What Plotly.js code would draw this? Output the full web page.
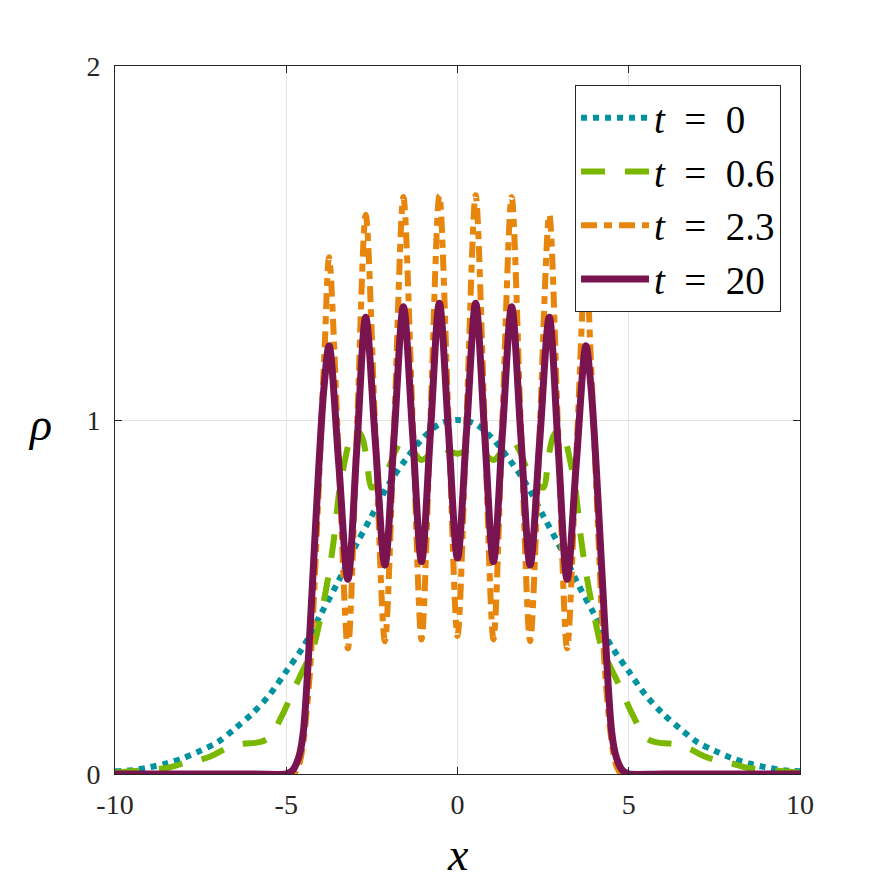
<!DOCTYPE html>
<html>
<head>
<meta charset="utf-8">
<script src="https://cdn.plot.ly/plotly-3.0.1.min.js"></script>
<style>
  html, body { margin: 0; padding: 0; background: #ffffff; }
  #chart { width: 886px; height: 886px; }
</style>
</head>
<body>
<div id="chart"></div>
<script>
// Density profiles rho(x) at four times.

// t = 0
const x_t0 = [-10,-9.5,-9,-8.5,-8,-7.5,-7,-6.5,-6,-5.5,-5,-4.5,-4,-3.5,-3,-2.5,-2,-1.5,-1,-0.5,0,
              0.5,1,1.5,2,2.5,3,3.5,4,4.5,5,5.5,6,6.5,7,7.5,8,8.5,9,9.5,10];
const rho_t0 = [0.008,0.011,0.019,0.03,0.045,0.066,0.09,0.128,0.17,0.222,0.29,0.36,0.45,0.54,0.64,0.73,0.82,0.89,0.95,0.99,1.0,
                0.99,0.95,0.89,0.82,0.73,0.64,0.54,0.45,0.36,0.29,0.222,0.17,0.128,0.09,0.066,0.045,0.03,0.019,0.011,0.008];

// t = 0.6
const x_t06 = [-10,-9.5,-9,-8.5,-8,-7.6,-7.2,-6.8,-6.5,-6.2,-5.9,-5.7,-5.5,-5.35,-5.2,-5,-4.8,-4.6,-4.4,-4.2,
               -4.05,-3.9,-3.75,-3.6,-3.45,-3.3,-3.15,-2.97,-2.8,-2.65,-2.52,-2.4,-2.2,-2,-1.8,-1.6,-1.35,-1.05,-0.75,-0.5,
               -0.25,0,0.25,0.5,0.75,1.05,1.35,1.6,1.8,2,2.2,2.4,2.52,2.65,2.8,2.97,3.15,3.3,3.45,3.6,
               3.75,3.9,4.05,4.2,4.4,4.6,4.8,5,5.2,5.35,5.5,5.7,5.9,6.2,6.5,6.8,7.2,7.6,8,8.5,9,9.5,10];
const rho_t06 = [0.004,0.008,0.012,0.017,0.03,0.038,0.05,0.07,0.082,0.086,0.088,0.092,0.102,0.12,0.15,0.19,0.235,0.275,0.315,0.36,
                 0.42,0.49,0.57,0.67,0.8,0.88,0.94,0.972,0.955,0.89,0.81,0.812,0.835,0.868,0.915,0.942,0.918,0.887,0.908,0.925,
                 0.913,0.905,0.913,0.925,0.908,0.887,0.918,0.942,0.915,0.868,0.835,0.812,0.81,0.89,0.955,0.972,0.94,0.88,0.8,0.67,
                 0.57,0.49,0.42,0.36,0.315,0.275,0.235,0.19,0.15,0.12,0.102,0.092,0.088,0.086,0.082,0.07,0.05,0.038,0.03,0.017,0.012,0.008,0.004];

// t = 2.3
const x_t23 = [-10,-6,-5,-4.8,-4.7,-4.6,-4.5,-4.4,-4.3,-4.2,-4.1,-4,-3.88,-3.75,-3.47,-3.2,-2.94,-2.68,-2.4,-2.12,
               -1.85,-1.58,-1.31,-1.05,-0.79,-0.53,-0.265,0,0.265,0.53,0.79,1.05,1.31,1.58,1.85,2.12,2.4,2.68,2.94,3.2,
               3.47,3.75,3.88,4,4.1,4.2,4.3,4.4,4.5,4.6,4.7,4.8,5,6,10];
const rho_t23 = [0,0,0,0,0.01,0.035,0.09,0.18,0.3,0.48,0.7,0.93,1.2,1.46,0.9,0.355,0.96,1.58,0.97,0.375,
                 0.98,1.63,1.0,0.38,1.0,1.635,1.01,0.39,1.01,1.635,1.0,0.38,1.0,1.63,0.98,0.375,0.97,1.58,0.96,0.355,
                 0.9,1.46,1.2,0.93,0.7,0.48,0.3,0.18,0.09,0.035,0.01,0,0,0,0];

// t = 20
const x_t20 = [-10,-6,-5,-4.9,-4.8,-4.7,-4.6,-4.5,-4.4,-4.3,-4.2,-4.1,-4,-3.9,-3.75,-3.47,-3.2,-2.94,-2.68,-2.4,
               -2.12,-1.85,-1.58,-1.31,-1.05,-0.79,-0.53,-0.265,0,0.265,0.53,0.79,1.05,1.31,1.58,1.85,2.12,2.4,2.68,2.94,
               3.2,3.47,3.75,3.9,4,4.1,4.2,4.3,4.4,4.5,4.6,4.7,4.8,4.9,5,6,10];
const rho_t20 = [0,0,0,0.004,0.012,0.03,0.06,0.12,0.25,0.42,0.6,0.78,0.95,1.09,1.21,0.88,0.55,0.92,1.29,0.94,
                 0.59,0.955,1.32,0.96,0.6,0.965,1.33,0.97,0.61,0.97,1.33,0.965,0.6,0.96,1.32,0.955,0.59,0.94,1.29,0.92,
                 0.55,0.88,1.21,1.09,0.95,0.78,0.6,0.42,0.25,0.12,0.06,0.03,0.012,0.004,0,0,0];

const eqSpace = '&nbsp;&nbsp;';
const seriesNames = [
  '<i>t</i>' + eqSpace + '=' + eqSpace + '0',
  '<i>t</i>' + eqSpace + '=' + eqSpace + '0.6',
  '<i>t</i>' + eqSpace + '=' + eqSpace + '2.3',
  '<i>t</i>' + eqSpace + '=' + eqSpace + '20'
];
const xTicks = [-10, -5, 0, 5, 10];
const xTickText = ['-10', '-5', '0', '5', '10'];
const yTicks = [0, 1, 2];
const yTickText = ['0', '1', '2'];

const serif = 'Liberation Serif, Times New Roman, serif';
const axisColor = '#262626';

function curve(x, y, name, color, width, dash) {
  return {
    x: x, y: y, name: name, type: 'scatter', mode: 'lines',
    line: { color: color, width: width, dash: dash, shape: 'spline', smoothing: 0.9 }
  };
}

const traces = [
  curve(x_t0,  rho_t0,  seriesNames[0], '#00929f', 6, '6px,6px'),
  curve(x_t06, rho_t06, seriesNames[1], '#7ab800', 6, '24px,20px'),
  curve(x_t23, rho_t23, seriesNames[2], '#e8850c', 6, '16px,7px,8px,7px'),
  curve(x_t20, rho_t20, seriesNames[3], '#7a1450', 7, 'solid')
];

const axisCommon = {
  ticks: 'inside', ticklen: 7, tickwidth: 1, tickcolor: axisColor,
  showline: true, linecolor: axisColor, linewidth: 1, mirror: 'ticks',
  showgrid: true, gridcolor: '#e4e4e4', gridwidth: 1, zeroline: false,
  tickfont: { family: serif, size: 28, color: axisColor }
};

const layout = {
  width: 886, height: 886,
  margin: { l: 115, r: 86, t: 66, b: 112, pad: 0 },
  paper_bgcolor: '#ffffff', plot_bgcolor: '#ffffff',
  showlegend: true,
  xaxis: Object.assign({}, axisCommon, {
    range: [-10, 10], tickmode: 'array', tickvals: xTicks, ticktext: xTickText,
    ticklabelstandoff: 5
  }),
  yaxis: Object.assign({}, axisCommon, {
    range: [0, 2], tickmode: 'array', tickvals: yTicks, ticktext: yTickText,
    ticklabelstandoff: 8
  }),
  legend: {
    x: 0.9723, y: 0.9732, xanchor: 'right', yanchor: 'top',
    bgcolor: '#ffffff', bordercolor: axisColor, borderwidth: 1,
    font: { family: serif, size: 39, color: '#000000' },
    itemwidth: 68, traceorder: 'normal'
  },
  annotations: [
    { text: '<i>x</i>', xref: 'paper', yref: 'paper', x: 0.5, y: -0.114,
      xanchor: 'center', yanchor: 'middle', showarrow: false,
      font: { family: serif, size: 46, color: '#000000' } },
    { text: '<i>ρ</i>', xref: 'paper', yref: 'paper', x: -0.1095, y: 0.493,
      xanchor: 'center', yanchor: 'middle', showarrow: false,
      font: { family: serif, size: 46, color: '#000000' } }
  ]
};

Plotly.newPlot('chart', traces, layout, { staticPlot: true, displayModeBar: false });
</script>
</body>
</html>
